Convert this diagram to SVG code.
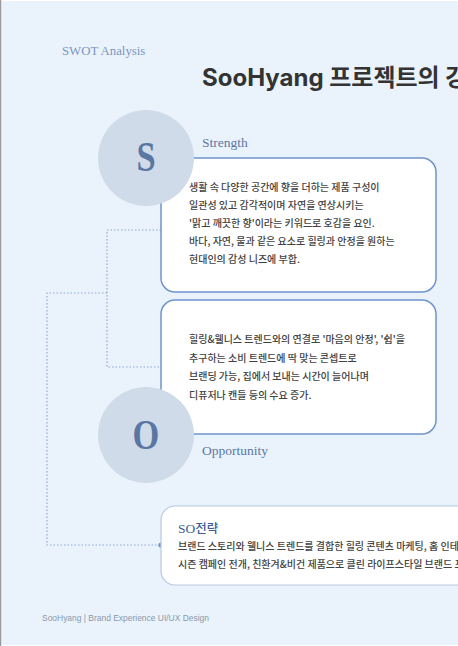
<svg xmlns="http://www.w3.org/2000/svg" width="458" height="646" viewBox="0 0 458 646">
<style>
.serif{font-family:"Liberation Serif","DejaVu Serif",serif;}
.body{font-family:"Noto Sans CJK KR","Noto Sans",sans-serif;font-size:10px;font-weight:500;fill:#424242;}
.card{fill:#ffffff;stroke:#7094CB;stroke-width:1.5;}
.circ{fill:#CFDBE8;}
.letter{font-family:"Liberation Serif","DejaVu Serif",serif;font-size:42px;font-weight:700;fill:#5A77A3;text-anchor:middle;}
.label{font-family:"Liberation Serif","DejaVu Serif",serif;font-size:13.5px;fill:#5A77A3;}
.dot{fill:none;stroke:#8FA9D4;stroke-width:1.2;stroke-dasharray:1.5 2;}
</style>
<rect x="0" y="0" width="458" height="646" fill="#FFFFFF"/>
<rect x="1" y="1" width="457" height="644" fill="#EAF3FC"/>
<rect x="0" y="0" width="1.2" height="646" fill="#9A9A9A"/>

<g id="header">
<text x="62" y="55" class="serif" font-size="12.8" fill="#7C95BC">SWOT Analysis</text>
<text x="202" y="86" font-family="Inter,'Noto Sans CJK KR',sans-serif" font-weight="700" font-size="24" fill="#333333">SooHyang 프로젝트의 강점</text>
</g>

<g id="connectors">
<polyline class="dot" points="161,230 107,230 107,367 161,367"/>
<polyline class="dot" points="107,293 47,293 47,545 161,545"/>
<circle cx="161" cy="545" r="2.6" fill="#7094CB"/>
</g>

<g id="strength-card">
<rect class="card" x="161" y="158" width="275" height="134" rx="14"/>
<text class="body" x="189" y="191">생활 속 다양한 공간에 향을 더하는 제품 구성이</text>
<text class="body" x="189" y="209">일관성 있고 감각적이며 자연을 연상시키는</text>
<text class="body" x="189" y="227">'맑고 깨끗한 향'이라는 키워드로 호감을 요인.</text>
<text class="body" x="189" y="245">바다, 자연, 물과 같은 요소로 힐링과 안정을 원하는</text>
<text class="body" x="189" y="263">현대인의 감성 니즈에 부합.</text>
</g>

<g id="strength-node">
<circle class="circ" cx="146" cy="158" r="48"/>
<text class="letter" transform="translate(146,171) scale(0.82,1)">S</text>
<text class="label" x="202" y="147">Strength</text>
</g>

<g id="opportunity-card">
<rect class="card" x="161" y="300" width="275" height="134" rx="14"/>
<text class="body" x="189" y="343">힐링&amp;웰니스 트렌드와의 연결로 '마음의 안정', '쉼'을</text>
<text class="body" x="189" y="361.5">추구하는 소비 트렌드에 딱 맞는 콘셉트로</text>
<text class="body" x="189" y="380">브랜딩 가능, 집에서 보내는 시간이 늘어나며</text>
<text class="body" x="189" y="398.5">디퓨저나 캔들 등의 수요 증가.</text>
</g>

<g id="opportunity-node">
<circle class="circ" cx="146" cy="435" r="48"/>
<text class="letter" transform="translate(146,449) scale(0.82,1)">O</text>
<text class="label" x="202" y="455">Opportunity</text>
</g>

<g id="so-strategy">
<rect x="161" y="506" width="320" height="79" rx="14" fill="#FFFFFF" stroke="#B6C8E0" stroke-width="1.2"/>
<text x="178" y="533" font-size="13.5" fill="#3E5F92"><tspan class="serif">SO</tspan><tspan font-family="'Noto Sans CJK KR',sans-serif" font-size="12.5" font-weight="500">전략</tspan></text>
<text class="body" x="178" y="550">브랜드 스토리와 웰니스 트렌드를 결합한 힐링 콘텐츠 마케팅, 홈 인테리어</text>
<text class="body" x="178" y="567.5">시즌 캠페인 전개, 친환겨&amp;비건 제품으로 클린 라이프스타일 브랜드 포지셔닝</text>
</g>

<g id="footer">
<text x="42" y="621" font-family="'Liberation Sans',Arial,sans-serif" font-size="9" textLength="167" lengthAdjust="spacingAndGlyphs" fill="#8A98AB">SooHyang | Brand Experience UI/UX Design</text>
</g>
</svg>
